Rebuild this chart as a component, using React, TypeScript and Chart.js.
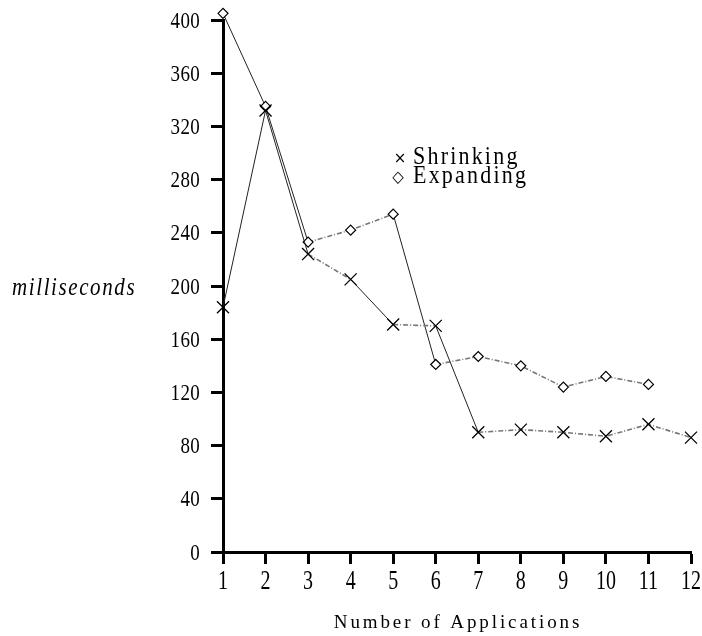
import React, { useEffect, useRef } from "react";
import { Chart, registerables } from "chart.js";

Chart.register(...registerables);

const categories = ["1", "2", "3", "4", "5", "6", "7", "8", "9", "10", "11", "12"];
const shrinking = [184, 332, 224, 205, 171, 170, 90, 92, 90, 87, 96, 86];
const expanding = [405, 335, 233, 242, 254, 141, 147, 140, 124, 132, 126, null];
const yTicks = [0, 40, 80, 120, 160, 200, 240, 280, 320, 360, 400];
const legendLabels = ["Shrinking", "Expanding"];
const legendMarks = ["\u00d7", "\u25c7"];
const xTitle = "Number of Applications";
const yTitle = "milliseconds";

const steep = (ctx: any) => Math.abs(ctx.p1.y - ctx.p0.y) > Math.abs(ctx.p1.x - ctx.p0.x);

const segmentStyle = {
  borderColor: (ctx: any) => (steep(ctx) ? "#222" : "#777"),
  borderDash: (ctx: any) => (steep(ctx) ? [] : [5, 2, 1, 2]),
  borderWidth: (ctx: any) => (steep(ctx) ? 1 : 1.6),
};

function drawText(
  ctx: any,
  text: string,
  x: number,
  baseline: number,
  font: string,
  align: string,
  sy: number,
  spacing: number
) {
  ctx.save();
  ctx.font = font;
  ctx.textAlign = align;
  ctx.textBaseline = "alphabetic";
  ctx.letterSpacing = spacing + "px";
  ctx.translate(x, baseline);
  ctx.scale(1, sy);
  ctx.fillText(text, 0, 0);
  ctx.restore();
}

const decorPlugin = {
  id: "decor",
  afterDatasetsDraw(chart: any) {
    const ctx = chart.ctx;
    const area = chart.chartArea;
    const full = { left: 0, top: 0, right: chart.width, bottom: chart.height };
    chart.data.datasets.forEach((_: any, i: number) => {
      const meta = chart.getDatasetMeta(i);
      meta.data.forEach((el: any) => {
        if (!el.skip && el.y < area.top - 3) el.draw(ctx, full);
      });
    });
  },
  afterDraw(chart: any) {
    const ctx = chart.ctx;
    const area = chart.chartArea;
    const xs = chart.scales.x;
    const ys = chart.scales.y;
    ctx.save();
    ctx.fillStyle = "#000";
    // tick labels, taken from the library's scales
    xs.ticks.forEach((t: any, i: number) => {
      drawText(ctx, String(xs.getLabelForValue(t.value)), xs.getPixelForTick(i), 589, "20px 'Liberation Serif'", "center", 1.33, 0);
    });
    ys.ticks.forEach((t: any, i: number) => {
      drawText(ctx, String(t.value), 200, ys.getPixelForTick(i) + 7.5, "19px 'Liberation Serif'", "right", 1.17, 0.3);
    });
    // titles
    drawText(ctx, xTitle, (area.left + area.right) / 2 + 1, 628, "19px 'Liberation Serif'", "center", 1.0, 2.9);
    drawText(ctx, yTitle, 12, 295, "italic 21px 'Liberation Serif'", "left", 1.2, 1.6);
    // legend
    const baselines = [164, 183];
    const markX = [400, 398];
    legendLabels.forEach((lab, i) => {
      drawText(ctx, legendMarks[i], markX[i], baselines[i] - 1, "15px 'DejaVu Sans'", "center", 1.1, 0);
      drawText(ctx, lab, 413, baselines[i], "22px 'Liberation Serif'", "left", 1.1, 2.2);
    });
    ctx.restore();
  },
};

export default function App() {
  const ref = useRef<HTMLCanvasElement>(null);
  useEffect(() => {
    if (!ref.current) return;
    const chart = new Chart(ref.current, {
      type: "line",
      data: {
        labels: categories,
        datasets: [
          {
            label: legendLabels[0],
            data: shrinking,
            pointStyle: "crossRot",
            pointRadius: 8.5,
            pointBorderColor: "#000",
            pointBorderWidth: 1.3,
            pointBackgroundColor: "#000",
            borderColor: "#222",
            borderWidth: 1,
            fill: false,
            tension: 0,
            clip: false,
            segment: segmentStyle,
          },
          {
            label: legendLabels[1],
            data: expanding,
            pointStyle: "rectRot",
            pointRadius: 5,
            pointBorderColor: "#000",
            pointBorderWidth: 1.2,
            pointBackgroundColor: "#fff",
            borderColor: "#222",
            borderWidth: 1,
            fill: false,
            tension: 0,
            clip: false,
            spanGaps: false,
            segment: segmentStyle,
          },
        ],
      },
      options: {
        responsive: false,
        animation: false,
        layout: { padding: { left: 0, top: 20, right: 11, bottom: 0 } },
        plugins: {
          legend: { display: false },
          tooltip: { enabled: false },
        },
        scales: {
          x: {
            type: "category",
            offset: false,
            grid: {
              display: true,
              drawOnChartArea: false,
              drawTicks: true,
              tickLength: 12,
              tickWidth: 3,
              color: "#000",
            },
            border: { display: true, width: 3, color: "#000" },
            ticks: { display: false, autoSkip: false, maxRotation: 0 },
            afterFit(scale: any) {
              scale.height = 84;
            },
          },
          y: {
            min: 0,
            max: 400,
            afterBuildTicks(scale: any) {
              scale.ticks = yTicks.map((v) => ({ value: v }));
            },
            grid: {
              display: true,
              drawOnChartArea: false,
              drawTicks: true,
              tickLength: 12,
              tickWidth: 3,
              color: "#000",
            },
            border: { display: true, width: 3, color: "#000" },
            ticks: { display: false },
            afterFit(scale: any) {
              scale.width = 223;
            },
          },
        },
      },
      plugins: [decorPlugin],
    });
    return () => chart.destroy();
  }, []);
  return (
    <div style={{ position: "absolute", left: 0, top: 0, width: 702, height: 636, background: "#fff" }}>
      <canvas ref={ref} width={702} height={636} style={{ display: "block" }} />
    </div>
  );
}
